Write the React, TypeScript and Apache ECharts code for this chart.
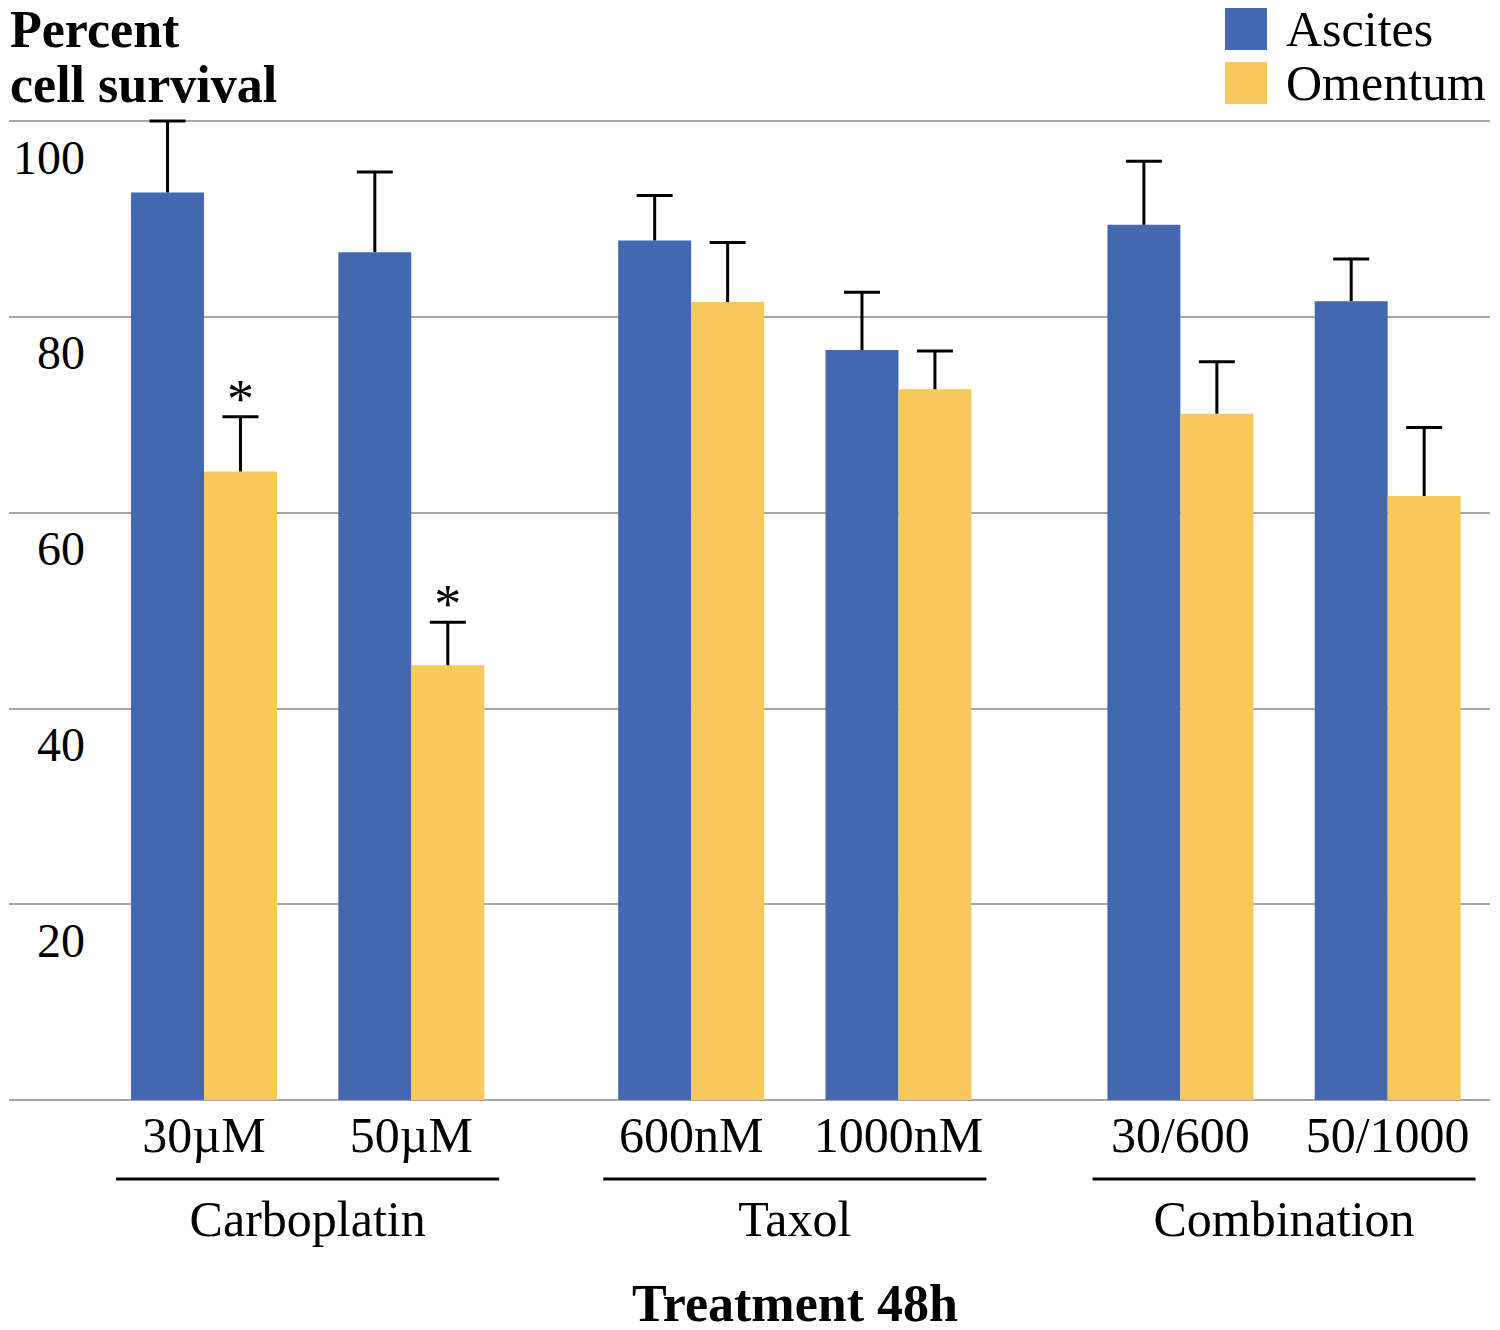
import React, { useEffect, useRef } from "react";
import * as echarts from "echarts";

// ---- data ----
const categories = ["30µM", "50µM", "600nM", "1000nM", "30/600", "50/1000"];
const categoryPositions = [0, 1, 2.35, 3.35, 4.71, 5.71];
const ascites = [92.7, 86.6, 87.8, 76.6, 89.4, 81.6];
const ascitesErr = [7.3, 8.2, 4.6, 5.9, 6.5, 4.3];
const omentum = [64.2, 44.4, 81.5, 72.6, 70.1, 61.7];
const omentumErr = [5.6, 4.4, 6.1, 3.9, 5.3, 7.0];
const omentumSignificant = [true, true, false, false, false, false];
const groups = ["Carboplatin", "Taxol", "Combination"];
const groupMembers = [[0, 1], [2, 3], [4, 5]];
const yTicks = [0, 20, 40, 60, 80, 100];

const FONT = "'Liberation Serif', 'Times New Roman', serif";
const BLUE = "#4468B0";
const GOLD = "#F7C95C";
const BAR_W = 0.352;
const GROUP_HALF = 0.924;

function barRender(side: number, color: string) {
  return (params: any, api: any) => {
    const x = api.value(0);
    const v = api.value(1);
    const e = api.value(2);
    const sig = api.value(3);
    const base = api.coord([x, 0]);
    const top = api.coord([x, v]);
    const errTop = api.coord([x, v + e]);
    const w = api.size([BAR_W, 0])[0];
    const x0 = side < 0 ? base[0] - w : base[0];
    const cx = x0 + w / 2;
    const children: any[] = [
      {
        type: "rect",
        shape: { x: x0, y: top[1], width: w, height: base[1] - top[1] },
        style: { fill: color },
      },
      {
        type: "line",
        shape: { x1: cx, y1: top[1], x2: cx, y2: errTop[1] },
        style: { stroke: "#000", lineWidth: 3 },
      },
      {
        type: "line",
        shape: { x1: cx - 18, y1: errTop[1], x2: cx + 18, y2: errTop[1] },
        style: { stroke: "#000", lineWidth: 3 },
      },
    ];
    if (sig) {
      children.push({
        type: "text",
        style: {
          text: "*",
          x: cx,
          y: errTop[1] - 18,
          align: "center",
          verticalAlign: "middle",
          fontSize: 54,
          fontFamily: FONT,
          fill: "#000",
        },
      });
    }
    return { type: "group", children };
  };
}

export default function App() {
  const ref = useRef<HTMLDivElement>(null);
  useEffect(() => {
    if (!ref.current) return;
    const chart = echarts.init(ref.current, null, { renderer: "svg" });
    const ascData = categoryPositions.map((p, i) => [p, ascites[i], ascitesErr[i], 0]);
    const omData = categoryPositions.map((p, i) => [p, omentum[i], omentumErr[i], omentumSignificant[i] ? 1 : 0]);
    const labelData = categoryPositions.map((p, i) => [p, i]);
    const groupData = groupMembers.map((m, i) => [
      m.reduce((s, k) => s + categoryPositions[k], 0) / m.length,
      i,
    ]);
    chart.setOption({
      animation: false,
      backgroundColor: "#fff",
      grid: { left: 9, right: 10, top: 121, bottom: 230 },
      xAxis: {
        type: "value",
        min: -0.9407,
        max: 6.2036,
        show: false,
      },
      yAxis: {
        type: "value",
        min: 0,
        max: 100,
        interval: 20,
        axisLine: { show: false },
        axisTick: { show: false },
        splitLine: { lineStyle: { color: "#A6A6A6", width: 2 } },
        axisLabel: {
          inside: true,
          align: "right",
          margin: 76,
          verticalAlign: "top",
          lineHeight: 72,
          showMinLabel: false,
          fontSize: 48,
          fontFamily: FONT,
          color: "#000",
          formatter: (v: number) => (yTicks.includes(v) ? String(v) : ""),
        },
      },
      legend: {
        left: 1225,
        top: 4,
        orient: "vertical",
        padding: 0,
        itemGap: 4,
        itemWidth: 42,
        itemHeight: 42,
        icon: "rect",
        data: ["Ascites", "Omentum"],
        textStyle: {
          fontFamily: FONT,
          fontSize: 50,
          color: "#000",
          padding: [0, 0, 0, 14],
        },
      },
      graphic: [
        {
          type: "text",
          left: 10,
          top: 2,
          style: {
            text: "Percent\ncell survival",
            fontFamily: FONT,
            fontWeight: "bold",
            fontSize: 52,
            lineHeight: 55,
            fill: "#000",
          },
        },
        {
          type: "text",
          left: 632,
          top: 1277,
          style: {
            text: "Treatment 48h",
            fontFamily: FONT,
            fontWeight: "bold",
            fontSize: 52,
            fill: "#000",
          },
        },
      ],
      series: [
        {
          name: "Ascites",
          type: "custom",
          itemStyle: { color: BLUE },
          renderItem: barRender(-1, BLUE),
          encode: { x: 0, y: 1 },
          data: ascData,
        },
        {
          name: "Omentum",
          type: "custom",
          itemStyle: { color: GOLD },
          renderItem: barRender(1, GOLD),
          encode: { x: 0, y: 1 },
          data: omData,
        },
        {
          name: "labels",
          type: "custom",
          silent: true,
          encode: { x: 0 },
          renderItem: (params: any, api: any) => {
            const p = api.coord([api.value(0), 0]);
            return {
              type: "text",
              style: {
                text: categories[api.value(1)],
                x: p[0],
                y: p[1] + 35,
                align: "center",
                verticalAlign: "middle",
                fontSize: 50,
                fontFamily: FONT,
                fill: "#000",
              },
            };
          },
          data: labelData,
        },
        {
          name: "groups",
          type: "custom",
          silent: true,
          encode: { x: 0 },
          renderItem: (params: any, api: any) => {
            const mid = api.value(0);
            const a = api.coord([mid - GROUP_HALF, 0]);
            const b = api.coord([mid + GROUP_HALF, 0]);
            const c = api.coord([mid, 0]);
            return {
              type: "group",
              children: [
                {
                  type: "line",
                  shape: { x1: a[0], y1: a[1] + 79, x2: b[0], y2: b[1] + 79 },
                  style: { stroke: "#000", lineWidth: 3 },
                },
                {
                  type: "text",
                  style: {
                    text: groups[api.value(1)],
                    x: c[0],
                    y: c[1] + 119,
                    align: "center",
                    verticalAlign: "middle",
                    fontSize: 50,
                    fontFamily: FONT,
                    fill: "#000",
                  },
                },
              ],
            };
          },
          data: groupData,
        },
      ],
    });
    return () => chart.dispose();
  }, []);
  return <div ref={ref} style={{ width: 1500, height: 1330, margin: -8 }} />;
}
